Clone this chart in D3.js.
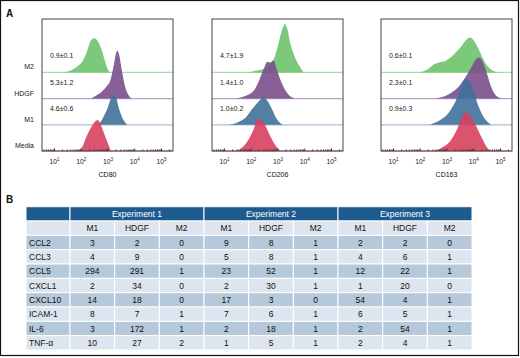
<!DOCTYPE html>
<html>
<head>
<meta charset="utf-8">
<script src="https://cdn.jsdelivr.net/npm/d3@7"></script>
<style>
  body { margin: 0; background: #fff; }
  svg { display: block; font-family: "Liberation Sans", Arial, sans-serif; }
</style>
</head>
<body>
<div id="viz"></div>
<script>
const width = 520;
const height = 358;

// ---- panel A data ----
const markers = ['CD80', 'CD206', 'CD163'];
const conditions = ['M2', 'HDGF', 'M1', 'Media'];
const condColors = ['#6cc46c', '#7a4f8c', '#3f7199', '#d8405e'];
const baseColors = ['#a9dca9', '#b9a3c4', '#a9c0d4', '#eeaab8'];
// fold change labels for M2, HDGF, M1
const cd80Labels = ['0.9±0.1', '5.3±1.2', '4.6±0.6'];
const cd206Labels = ['4.7±1.9', '1.4±1.0', '1.0±0.2'];
const cd163Labels = ['0.6±0.1', '2.3±0.1', '0.9±0.3'];

// histograms: [log10 fluorescence, event count]
const cd80M2 = [[1.37,0],[1.62,8],[1.87,24],[2.06,44],[2.21,77],[2.33,117],[2.41,133],[2.50,137],[2.58,133],[2.68,117],[2.78,91],[2.91,44],[2.99,17],[3.12,0]];
const cd80HDGF = [[2.37,0],[2.56,11],[2.75,24],[2.93,44],[3.12,77],[3.24,137],[3.31,177],[3.37,191],[3.43,177],[3.53,117],[3.65,51],[3.80,11],[3.93,0]];
const cd80M1 = [[2.62,0],[2.75,12],[2.87,36],[2.99,63],[3.12,103],[3.21,119],[3.31,113],[3.40,76],[3.55,29],[3.74,0]];
const cd80Media = [[1.87,0],[2.06,17],[2.21,57],[2.37,91],[2.53,117],[2.64,124],[2.75,104],[2.87,71],[2.99,37],[3.12,0]];

const cd206M2 = [[1.87,0],[2.24,8],[2.54,17],[2.79,37],[2.94,77],[3.07,131],[3.19,177],[3.28,193],[3.36,177],[3.48,117],[3.64,64],[3.83,24],[3.98,0]];
const cd206HDGF = [[1.44,0],[1.81,11],[2.11,31],[2.33,77],[2.48,117],[2.62,147],[2.72,144],[2.85,153],[2.97,117],[3.15,64],[3.40,17],[3.64,0]];
const cd206M1 = [[1.14,0],[1.50,9],[1.81,29],[2.05,63],[2.26,89],[2.48,109],[2.62,96],[2.79,63],[2.97,23],[3.19,0]];
const cd206Media = [[1.44,0],[1.69,15],[1.93,48],[2.11,88],[2.26,128],[2.36,124],[2.48,115],[2.66,75],[2.85,35],[3.09,0]];

const cd163M2 = [[1.99,0],[2.30,13],[2.54,33],[2.72,40],[2.97,47],[3.28,73],[3.52,100],[3.76,133],[3.89,140],[4.07,120],[4.26,80],[4.44,40],[4.68,11],[4.93,0]];
const cd163HDGF = [[2.54,0],[3.09,17],[3.46,48],[3.70,84],[3.89,117],[4.07,151],[4.19,164],[4.34,151],[4.50,104],[4.68,44],[4.86,11],[5.11,0]];
const cd163M1 = [[2.36,0],[2.72,16],[3.09,49],[3.40,109],[3.58,163],[3.70,183],[3.85,176],[4.01,136],[4.19,76],[4.44,23],[4.68,0]];
const cd163Media = [[2.54,0],[2.85,15],[3.15,41],[3.40,88],[3.58,135],[3.73,155],[3.89,141],[4.07,108],[4.31,55],[4.56,8],[4.68,0]];

const histograms = [
  [cd80M2, cd80HDGF, cd80M1, cd80Media],
  [cd206M2, cd206HDGF, cd206M1, cd206Media],
  [cd163M2, cd163HDGF, cd163M1, cd163Media]
];
const foldLabels = [cd80Labels, cd206Labels, cd163Labels];
const majorTicks = [1, 2, 3, 4, 5];

// ---- panel B data ----
const genes = ['CCL2', 'CCL3', 'CCL5', 'CXCL1', 'CXCL10', 'ICAM-1', 'IL-6', 'TNF-α'];
const experiments = ['Experiment 1', 'Experiment 2', 'Experiment 3'];
const treatments = ['M1', 'HDGF', 'M2'];
const exp1 = [[3,2,0],[4,9,0],[294,291,1],[2,34,0],[14,18,0],[8,7,1],[3,172,1],[10,27,2]];
const exp2 = [[9,8,1],[5,8,1],[23,52,1],[2,30,1],[17,3,0],[7,6,1],[2,18,1],[1,5,1]];
const exp3 = [[2,2,0],[4,6,1],[12,22,1],[1,20,0],[54,4,1],[6,5,1],[2,54,1],[2,4,1]];
const expValues = [exp1, exp2, exp3];

const svg = d3.select('#viz').append('svg')
  .attr('width', width)
  .attr('height', height);

svg.append('rect')
  .attr('x', 0.5).attr('y', 0.5)
  .attr('width', 518).attr('height', 355)
  .attr('fill', 'none').attr('stroke', '#111').attr('stroke-width', 1.2);

svg.append('text').attr('x', 6).attr('y', 17)
  .attr('font-size', 10).attr('font-weight', 'bold').attr('fill', '#111').text('A');
svg.append('text').attr('x', 6).attr('y', 203)
  .attr('font-size', 10).attr('font-weight', 'bold').attr('fill', '#111').text('B');

// ---- panel A ----
const boxTop = 19, boxBottom = 151, boxW = 131;
const panelLeft = [42, 212, 381];

const yRow = d3.scalePoint()
  .domain(conditions.slice().reverse())
  .range([boxBottom, boxBottom - 3 * 26.2]);
const yCount = d3.scaleLinear().domain([0, 200]).range([0, 50]);

// row labels
svg.append('g').selectAll('text')
  .data(conditions)
  .join('text')
    .attr('x', 34)
    .attr('y', d => yRow(d) - 3)
    .attr('text-anchor', 'end')
    .attr('font-size', 7)
    .attr('fill', '#222')
    .text(d => d);

const minorTicks = [];
for (let n = 0; n <= 5; n++) {
  for (let k = 2; k <= 9; k++) {
    const v = n + Math.log10(k);
    if (v > 0.55 && v < 5.45) minorTicks.push(v);
  }
}

markers.forEach((marker, p) => {
  const left = panelLeft[p];
  const x = d3.scaleLinear().domain([0.55, 5.45]).range([left, left + boxW]);
  const g = svg.append('g');

  const area = d3.area()
    .x(d => x(d[0]))
    .curve(d3.curveMonotoneX);

  conditions.forEach((c, i) => {
    const base = yRow(c);
    g.append('line')
      .attr('x1', left).attr('x2', left + boxW)
      .attr('y1', base).attr('y2', base)
      .attr('stroke', baseColors[i]).attr('stroke-width', 1.3);
    area.y0(base).y1(d => base - yCount(d[1]));
    g.append('path')
      .datum(histograms[p][i])
      .attr('d', area)
      .attr('fill', condColors[i])
      .attr('fill-opacity', 0.9);
  });

  // fold change labels
  g.selectAll('text.fold')
    .data(foldLabels[p])
    .join('text')
      .attr('class', 'fold')
      .attr('x', left + 8)
      .attr('y', (d, i) => yRow(conditions[i]) - 14)
      .attr('font-size', 7)
      .attr('fill', '#222')
      .text(d => d);

  // minor ticks
  g.append('g')
    .attr('transform', `translate(0,${boxBottom})`)
    .call(d3.axisBottom(x).tickValues(minorTicks).tickSize(-1.5).tickFormat(''))
    .call(a => a.select('.domain').remove())
    .call(a => a.selectAll('line').attr('stroke', '#333'));

  const ax = g.append('g')
    .attr('transform', `translate(0,${boxBottom})`)
    .call(d3.axisBottom(x).tickValues(majorTicks).tickSize(-2.5).tickPadding(9).tickFormat(''));
  ax.select('.domain').remove();
  ax.selectAll('line').attr('stroke', '#333');
  ax.selectAll('.tick').each(function(d) {
    const t = d3.select(this).append('text')
      .attr('y', 13).attr('fill', '#222')
      .attr('font-size', 6.8).attr('text-anchor', 'middle')
      .attr('font-family', '"Liberation Sans", Arial, sans-serif');
    t.append('tspan').text('10');
    t.append('tspan').attr('dy', -3).attr('font-size', 4.6).text(d);
  });

  g.append('rect')
    .attr('x', left).attr('y', boxTop)
    .attr('width', boxW).attr('height', boxBottom - boxTop)
    .attr('fill', 'none').attr('stroke', '#444').attr('stroke-width', 1);

  g.append('text')
    .attr('x', left + boxW / 2).attr('y', 177)
    .attr('text-anchor', 'middle')
    .attr('font-size', 7)
    .attr('font-family', '"Liberation Sans Narrow", "Liberation Sans", sans-serif')
    .attr('fill', '#111')
    .text(marker);
});

// ---- panel B ----
const tLeft = 26, labelW = 44, tRight = 472;
const rowKeys = ['head', 'sub'].concat(genes);
const yT = d3.scaleBand().domain(rowKeys).range([206.7, 350]);
const colKeys = [];
experiments.forEach((e, i) => treatments.forEach(t => colKeys.push(i + '|' + t)));
const xT = d3.scaleBand().domain(colKeys).range([tLeft + labelW, tRight]);
const expW = xT.bandwidth() * 3;

const headBlue = '#1d5a8e';
const lightCell = '#dde6ee';
const darkCell = '#b6c9da';
const table = svg.append('g');

// header row
table.append('rect')
  .attr('x', tLeft).attr('y', yT('head'))
  .attr('width', labelW).attr('height', yT.bandwidth())
  .attr('fill', headBlue).attr('stroke', '#fff').attr('stroke-width', 1);
table.selectAll('rect.exp')
  .data(experiments)
  .join('rect')
    .attr('class', 'exp')
    .attr('x', (d, i) => xT(i + '|M1'))
    .attr('y', yT('head'))
    .attr('width', expW).attr('height', yT.bandwidth())
    .attr('fill', headBlue).attr('stroke', '#fff').attr('stroke-width', 1);
table.selectAll('text.exp')
  .data(experiments)
  .join('text')
    .attr('class', 'exp')
    .attr('x', (d, i) => xT(i + '|M1') + expW / 2)
    .attr('y', yT('head') + yT.bandwidth() / 2 + 3)
    .attr('text-anchor', 'middle')
    .attr('font-size', 8.5)
    .attr('fill', '#fff')
    .text(d => d);

// sub header and data rows
const bodyRows = ['sub'].concat(genes);
bodyRows.forEach((r, ri) => {
  const fill = r === 'sub' ? lightCell : (ri % 2 === 1 ? darkCell : lightCell);
  const y0 = yT(r);
  table.append('rect')
    .attr('x', tLeft).attr('y', y0)
    .attr('width', labelW).attr('height', yT.bandwidth())
    .attr('fill', fill).attr('stroke', '#fff').attr('stroke-width', 1);
  if (r !== 'sub') {
    table.append('text')
      .attr('x', tLeft + 3).attr('y', y0 + yT.bandwidth() / 2 + 3)
      .attr('font-size', 8.5).attr('fill', '#111')
      .text(r);
  }
  colKeys.forEach((ck, ci) => {
    const e = Math.floor(ci / 3), t = ci % 3;
    table.append('rect')
      .attr('x', xT(ck)).attr('y', y0)
      .attr('width', xT.bandwidth()).attr('height', yT.bandwidth())
      .attr('fill', fill).attr('stroke', '#fff').attr('stroke-width', 1);
    table.append('text')
      .attr('x', xT(ck) + xT.bandwidth() / 2)
      .attr('y', y0 + yT.bandwidth() / 2 + 3)
      .attr('text-anchor', 'middle')
      .attr('font-size', 8.5).attr('fill', '#111')
      .text(r === 'sub' ? treatments[t] : expValues[e][ri - 1][t]);
  });
});
</script>
</body>
</html>
